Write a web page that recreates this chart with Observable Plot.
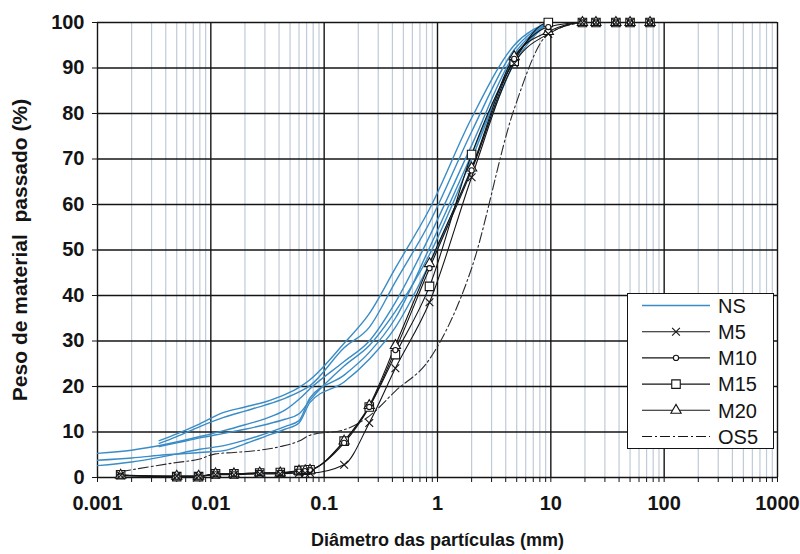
<!DOCTYPE html>
<html>
<head>
<meta charset="utf-8">
<script src="https://cdn.jsdelivr.net/npm/d3@7"></script>
<script src="https://cdn.jsdelivr.net/npm/@observablehq/plot@0.6"></script>
<style>
  body { margin: 0; background: #fff; }
  #chart { position: relative; width: 800px; height: 554px; }
  #legend { position: absolute; left: 627px; top: 293px; }
</style>
</head>
<body>
<div id="chart"></div>
<script>
// Grain-size distribution curves: percent passing vs particle diameter (mm)

// x-axis decades and their labels
const decades = [0.001, 0.01, 0.1, 1, 10, 100, 1000];
const decadeLabels = ["0.001", "0.01", "0.1", "1", "10", "100", "1000"];
const yTicks = [0, 10, 20, 30, 40, 50, 60, 70, 80, 90, 100];

// natural soil (NS) samples: hydrometer + sieve sizes
const nsSizesA = [0.0035, 0.005, 0.008, 0.013, 0.02, 0.03, 0.045, 0.06, 0.075, 0.15, 0.25, 0.425, 0.85, 2.0, 4.75, 9.5];
const nsSizesB = [0.001, 0.002, 0.004, 0.008, 0.013, 0.02, 0.03, 0.045, 0.06, 0.075, 0.15, 0.25, 0.425, 0.85, 2.0, 4.75, 9.5];
const ns1 = [8.1, 9.6, 11.8, 14.3, 15.5, 16.6, 18.2, 19.8, 21.5, 29.5, 36, 46, 59, 79, 95, 100];
const ns2 = [7.5, 9.0, 11.2, 13.2, 14.6, 15.9, 17.4, 18.8, 20.2, 28.5, 33, 43, 56, 76, 94, 100];
const ns3 = [5.3, 6.0, 7.3, 9.0, 10.3, 11.6, 12.9, 14.8, 17.2, 19.5, 25.5, 30, 38.5, 53, 73, 93, 100];
const ns4 = [2.6, 3.4, 4.7, 6.2, 7.0, 8.2, 9.6, 11.2, 12.5, 17.5, 22.5, 27.5, 35, 50.5, 71, 92, 100];
const ns5 = [6.8, 7.6, 8.7, 9.7, 10.6, 11.6, 12.8, 14.0, 17.0, 24.5, 29, 36.5, 49, 70, 92, 100];
const ns6 = [3.8, 4.3, 5.0, 5.5, 5.9, 7.4, 9.0, 10.6, 12.0, 16.5, 21, 26, 33, 47, 68, 91, 100];

// mixtures M5..M20
const mSizes = [0.0016, 0.005, 0.0078, 0.011, 0.016, 0.027, 0.041, 0.06, 0.068, 0.075, 0.15, 0.25, 0.425, 0.85, 2.0, 4.75, 9.5, 19, 25, 37.5, 50, 75];
const m5  = [0.5, 0.3, 0.3, 0.6, 0.6, 0.8, 0.8, 1.0, 1.0, 1.0, 2.8, 12, 24, 38.5, 66, 91, 97.5, 100, 100, 100, 100, 100];
const m10 = [0.4, 0.2, 0.2, 0.7, 0.7, 1.0, 1.0, 1.3, 1.4, 1.6, 7.6, 15.5, 28, 46, 67.5, 92, 99, 100, 100, 100, 100, 100];
const m15 = [0.6, 0.2, 0.2, 0.8, 0.8, 1.0, 1.1, 1.5, 1.6, 1.7, 8.0, 15.5, 27, 42, 71, 91.5, 100, 100, 100, 100, 100, 100];
const m20 = [0.5, 0.3, 0.3, 0.8, 0.8, 1.0, 1.0, 1.4, 1.5, 1.6, 8.0, 15.8, 29, 47, 68, 92.5, 98, 100, 100, 100, 100, 100];

// OS5
const os5Sizes = [0.0016, 0.005, 0.0078, 0.011, 0.016, 0.027, 0.041, 0.06, 0.075, 0.15, 0.25, 0.425, 0.85, 2.0, 4.75, 9.5, 19];
const os5 = [1.3, 3.3, 4.0, 5.2, 5.5, 6.0, 6.8, 8.0, 9.3, 10.5, 13.5, 19, 26, 46, 81, 97.5, 100];

const seriesNames = ["NS", "M5", "M10", "M15", "M20", "OS5"];

const zip = (sizes, values, id) => sizes.map((d, i) => ({d, p: values[i], id}));
const nsRows = [
  ...zip(nsSizesA, ns1, "NS-1"), ...zip(nsSizesA, ns2, "NS-2"),
  ...zip(nsSizesB, ns3, "NS-3"), ...zip(nsSizesB, ns4, "NS-4"),
  ...zip(nsSizesA, ns5, "NS-5"), ...zip(nsSizesB, ns6, "NS-6")
];
const osRows = zip(os5Sizes, os5, "OS5");
const mixes = [
  {name: "M5", values: m5, symbol: "times", r: 3.6},
  {name: "M10", values: m10, symbol: "circle", r: 2.6},
  {name: "M15", values: m15, symbol: "square", r: 4.8},
  {name: "M20", values: m20, symbol: "triangle", r: 3.8}
];
// markers are stacked so the small ones stay visible on top of the squares
const markerOrder = ["M15", "M20", "M10", "M5"];

// minor gridlines 2..9 within each decade
const minor = [];
for (const base of decades.slice(0, -1)) for (let k = 2; k <= 9; k++) minor.push(+(base * k).toPrecision(3));
const labelOf = new Map(decades.map((d, i) => [d, decadeLabels[i]]));

const blue = "#3a8cc6";
const ink = "#141414";

const marks = [
  Plot.ruleX(minor, {stroke: "#bfcbd8", strokeWidth: 1.2}),
  Plot.ruleY(yTicks, {stroke: ink, strokeWidth: 1.4}),
  Plot.ruleX(decades, {stroke: ink, strokeWidth: 1.4}),
  Plot.axisX({ticks: [...minor, ...decades], tickFormat: d => labelOf.get(d) ?? "", tickSize: 5, tickPadding: 13, label: null, stroke: ink}),
  Plot.axisY({ticks: yTicks, tickSize: 5, tickPadding: 8, label: null, stroke: ink}),
  Plot.text(["Diâmetro das partículas (mm)"], {frameAnchor: "bottom", dy: 68, fontSize: 18, fontWeight: "bold", fill: ink}),
  Plot.text(["Peso de material  passado (%)"], {frameAnchor: "left", dx: -77, rotate: -90, textAnchor: "middle", fontSize: 21, fontWeight: "bold", fill: ink}),
  Plot.line(nsRows, {x: "d", y: "p", z: "id", stroke: blue, strokeWidth: 1.4, curve: "monotone-x"}),
  Plot.line(osRows, {x: "d", y: "p", stroke: "#2a2a2a", strokeWidth: 1.1, strokeDasharray: "10,3,2,3", curve: "monotone-x"})
];
for (const m of mixes) {
  const rows = zip(mSizes, m.values, m.name);
  marks.push(Plot.line(rows, {x: "d", y: "p", stroke: ink, strokeWidth: 1.1, curve: "monotone-x"}));
}
for (const name of markerOrder) {
  const m = mixes.find(s => s.name === name);
  const rows = zip(mSizes, m.values, m.name);
  marks.push(Plot.dot(rows, {x: "d", y: "p", symbol: m.symbol, r: m.r, stroke: ink, strokeWidth: 1.1, fill: m.symbol === "times" ? "none" : "white"}));
}

const chart = Plot.plot({
  width: 800,
  height: 554,
  marginLeft: 97,
  marginRight: 23,
  marginTop: 22,
  marginBottom: 77,
  style: {fontFamily: "'Liberation Sans', Arial, sans-serif", fontSize: "20px", fontWeight: "bold", color: ink, background: "#fff"},
  x: {type: "log", domain: [0.001, 1000]},
  y: {domain: [0, 100]},
  marks
});
document.getElementById("chart").appendChild(chart);

// legend box
const legend = d3.select("#chart").append("div").attr("id", "legend")
  .append("svg").attr("width", 147).attr("height", 156);
legend.append("rect").attr("x", 0.5).attr("y", 0.5).attr("width", 146).attr("height", 155)
  .attr("fill", "#fff").attr("stroke", ink).attr("stroke-width", 1);
const symbolType = {times: d3.symbolTimes, circle: d3.symbolCircle, square: d3.symbolSquare, triangle: d3.symbolTriangle};
seriesNames.forEach((name, i) => {
  const y = 12.5 + i * 26.2;
  const g = legend.append("g");
  const mix = mixes.find(m => m.name === name);
  g.append("line").attr("x1", 15).attr("x2", 83).attr("y1", y).attr("y2", y)
    .attr("stroke", name === "NS" ? blue : ink)
    .attr("stroke-width", name === "NS" ? 1.4 : 1.1)
    .attr("stroke-dasharray", name === "OS5" ? "10,3,2,3" : null);
  if (mix) {
    g.append("path").attr("transform", `translate(49,${y})`)
      .attr("d", d3.symbol(symbolType[mix.symbol], Math.PI * mix.r * mix.r)())
      .attr("fill", mix.symbol === "times" ? "none" : "#fff").attr("stroke", ink).attr("stroke-width", 1.1);
  }
  g.append("text").attr("x", 91).attr("y", y).attr("dy", "0.36em")
    .attr("font-family", "'Liberation Sans', Arial, sans-serif").attr("font-size", 20)
    .attr("fill", ink).text(name);
});
</script>
</body>
</html>
